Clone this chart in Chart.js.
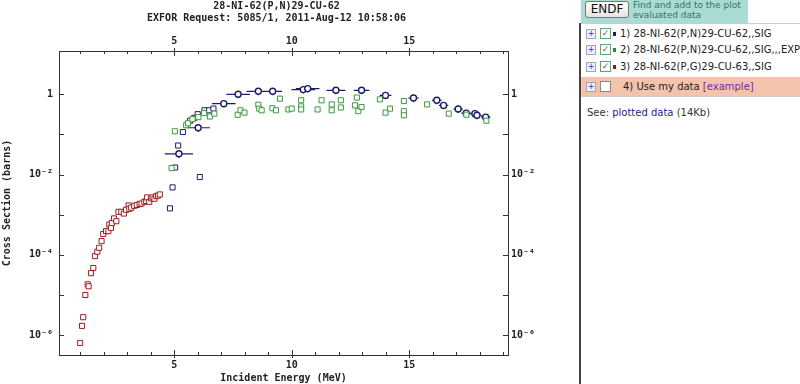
<!DOCTYPE html>
<html><head><meta charset="utf-8">
<script src="https://cdn.jsdelivr.net/npm/chart.js@4.4.0/dist/chart.umd.min.js"></script>
<style>
html,body{margin:0;padding:0;background:#fff;width:800px;height:384px;overflow:hidden;font-family:"DejaVu Sans",sans-serif;}
#wrap{position:absolute;left:0;top:0;width:553px;height:384px;}
.abs{position:absolute;}
.vline{left:579px;top:23px;width:2px;height:361px;background:#444;}
.teal{left:581px;top:0;width:167px;height:23px;background:#a9dcd3;}
.btn{left:585px;top:1px;width:42px;height:15px;border:1px solid #777;border-radius:3px;background:linear-gradient(#fff,#e4e4e4);font-size:12px;line-height:15px;text-align:center;color:#111;}
.tealtxt{left:633px;top:0px;font-size:9px;line-height:10px;color:#2f7466;}
.row{left:581px;width:219px;height:17px;font-size:10px;line-height:17px;color:#222;white-space:nowrap;}
.plus{position:absolute;left:5px;top:4px;width:8px;height:8px;border:1px solid #9aa;background:#eef;font-size:8px;line-height:8px;text-align:center;color:#33a;}
.chk{position:absolute;left:19px;top:3px;width:9px;height:9px;border:1px solid #5a7;background:#fff;font-size:9px;line-height:9px;text-align:center;color:#2a8a2a;}
.sw{position:absolute;left:32px;top:7px;width:3px;height:4px;}
.lbl{position:absolute;left:39px;top:0;}
.see{left:587px;top:107px;font-size:10px;color:#333;}
.see span{color:#1a1a9a;}
</style></head>
<body>
<div id="wrap"><canvas id="c" width="553" height="384"></canvas></div>
<div class="abs teal"></div>
<div class="abs btn">ENDF</div>
<div class="abs tealtxt">Find and add to the plot<br>evaluated data</div>
<div class="abs vline"></div>
<div class="abs" style="left:581px;top:23px;width:219px;height:1px;background:#ccc"></div>
<div class="abs row" style="top:25px"><div class="plus">+</div><div class="chk">✓</div><div class="sw" style="background:#1c1c6e"></div><div class="lbl">1) 28-NI-62(P,N)29-CU-62,,SIG</div></div>
<div class="abs row" style="top:41px"><div class="plus">+</div><div class="chk">✓</div><div class="sw" style="background:#2e8b2e"></div><div class="lbl">2) 28-NI-62(P,N)29-CU-62,,SIG,,,EXP</div></div>
<div class="abs row" style="top:58px"><div class="plus">+</div><div class="chk">✓</div><div class="sw" style="background:#8b1a1a"></div><div class="lbl">3) 28-NI-62(P,G)29-CU-63,,SIG</div></div>
<div class="abs" style="left:581px;top:77px;width:219px;height:19px;background:#f4c3ac"></div>
<div class="abs row" style="top:78px"><div class="plus">+</div><div class="chk" style="border-color:#888"></div><div class="lbl" style="left:42px">4) Use my data <span style="color:#6a2ab0">[example]</span></div></div>
<div class="abs" style="left:581px;top:96px;width:219px;height:1px;background:#ccc"></div>
<div class="abs see">See: <span>plotted data</span> (14Kb)</div>
<script>
// ---- data ----
const redX = [1.00,1.08,1.13,1.22,1.32,1.36,1.46,1.56,1.63,1.73,1.81,1.91,1.98,2.10,2.20,2.24,2.31,2.35,2.44,2.54,2.63,2.75,2.86,2.95,3.06,3.09,3.17,3.30,3.41,3.53,3.61,3.73,3.81,3.85,3.94,4.02,4.08,4.16,4.24,4.31,4.39];
const redY = [6.4e-7,1.7e-6,2.8e-6,1.0e-5,1.85e-5,1.65e-5,3.5e-5,4.7e-5,9.3e-5,1.2e-4,1.5e-4,2.2e-4,3.3e-4,3.9e-4,3.9e-4,5.7e-4,4.7e-4,6.2e-4,8.1e-4,6.9e-4,1.18e-3,1.18e-3,1.07e-3,1.33e-3,1.7e-3,1.4e-3,1.5e-3,1.67e-3,1.75e-3,1.85e-3,1.9e-3,2.1e-3,2.2e-3,2.7e-3,2.1e-3,2.55e-3,2.7e-3,2.5e-3,2.9e-3,3.0e-3,3.2e-3];

const blueSqX = [4.82,4.93,5.04,5.17,5.37,6.09,5.68,5.86,6.00,6.29,6.49,6.67];
const blueSqY = [1.44e-3,4.8e-3,1.5e-2,5.3e-2,0.115,8.7e-3,0.22,0.26,0.32,0.40,0.40,0.44];

const blueCX    = [5.20,6.02,7.11,7.72,8.58,9.19,10.49,10.68,11.88,12.97,13.99,15.18,16.17,16.46,17.08,17.42,17.79,17.88,18.25];
const blueCY    = [0.033,0.147,0.585,1.00,1.19,1.19,1.31,1.39,1.26,1.26,0.94,0.81,0.71,0.53,0.43,0.34,0.33,0.30,0.27];
const blueCXerr = [0.60,0.50,0.50,0.50,0.50,0.40,0.50,0.50,0.40,0.33,0.25,0.23,0.20,0.20,0.20,0.20,0.20,0.20,0.20];
const blueCYerr = [0.20,0.20,0.20,0.20,0.20,0.20,0.20,0.20,0.20,0.20,0.20,0.20,0.20,0.20,0.20,0.20,0.20,0.20,0.20];

const greenX = [4.89,5.03,5.51,5.59,5.78,6.03,6.27,6.52,6.71,7.70,7.82,7.99,8.58,8.62,8.72,9.18,9.33,9.50,9.86,10.00,10.40,10.40,10.40,11.10,11.27,11.70,11.70,12.09,12.09,12.69,12.77,12.83,12.97,13.75,13.99,14.18,14.77,14.77,14.77,15.76,16.68,17.43,18.28];
const greenY = [0.0145,0.12,0.17,0.19,0.24,0.27,0.34,0.28,0.33,0.31,0.40,0.35,0.55,0.44,0.40,0.45,0.40,0.78,0.42,0.44,0.71,0.50,0.42,0.42,0.71,0.56,0.40,0.71,0.47,0.53,0.83,0.38,0.48,0.75,0.35,0.44,0.68,0.38,0.30,0.56,0.33,0.31,0.22];

const xTicks  = [1,2,3,4,5,6,7,8,9,10,11,12,13,14,15,16,17,18,19];
const xLabels = ['','','','','5','','','','','10','','','','','15','','','',''];
const yTicks  = [1e-6,1e-5,1e-4,1e-3,1e-2,1e-1,1];
const yLabels = ['10\u207B\u2076','','10\u207B\u2074','','10\u207B\u00B2','','1'];

const titleLines = ['28-NI-62(P,N)29-CU-62','EXFOR Request: 5085/1, 2011-Aug-12 10:58:06'];
const xTitle = 'Incident Energy (MeV)';
const yTitle = 'Cross Section (barns)';

// ---- colours ----
const RED='#a01c1c', NAVY='#1c1c6e', GREEN='#3a9a3a', AX='#333';
const monoB = {family:'DejaVu Sans Mono', size:10, weight:'bold', lineHeight:1.2};

const pts = (xs,ys)=>xs.map((x,i)=>({x:x,y:ys[i]}));
function lookup(ticks,labels,v){
  for(let i=0;i<ticks.length;i++){ if(Math.abs(ticks[i]-v) <= Math.abs(ticks[i])*1e-6) return labels[i]; }
  return '';
}

const innerTicks = {
  id:'innerTicks',
  afterDatasetsDraw(chart){
    const {ctx, chartArea:a, scales} = chart;
    ctx.save(); ctx.strokeStyle=AX; ctx.lineWidth=1;
    ctx.beginPath();
    xTicks.forEach((v,i)=>{
      const p = Math.round(scales.x.getPixelForValue(v))+0.5;
      const major = xLabels[i] !== '';
      ctx.moveTo(p, a.bottom + (major?3:0)); ctx.lineTo(p, a.bottom - (major?5:3));
      ctx.moveTo(p, a.top - (major?3:0)); ctx.lineTo(p, a.top + (major?5:3));
    });
    yTicks.forEach((v)=>{
      const p = Math.round(scales.y.getPixelForValue(v))+0.5;
      ctx.moveTo(a.left, p); ctx.lineTo(a.left+5, p);
      ctx.moveTo(a.right, p); ctx.lineTo(a.right-5, p);
    });
    ctx.stroke(); ctx.restore();
  }
};

const errBars = {
  id:'errBars',
  beforeDatasetsDraw(chart){
    const {ctx, scales:{x,y}} = chart;
    ctx.save(); ctx.strokeStyle=NAVY; ctx.lineWidth=1.2;
    ctx.beginPath();
    blueCX.forEach((cx,i)=>{
      const cy = blueCY[i];
      const py = y.getPixelForValue(cy);
      ctx.moveTo(x.getPixelForValue(cx-blueCXerr[i]), py);
      ctx.lineTo(x.getPixelForValue(cx+blueCXerr[i]), py);
      const px = x.getPixelForValue(cx);
      ctx.moveTo(px, y.getPixelForValue(cy*(1+blueCYerr[i])));
      ctx.lineTo(px, y.getPixelForValue(cy*(1-blueCYerr[i])));
    });
    ctx.stroke(); ctx.restore();
  }
};

const sq = (color)=>({pointStyle:'rect', pointRadius:3.6, pointHoverRadius:3.6, borderColor:color, backgroundColor:'#fff', pointBorderWidth:1, borderWidth:1});

function xScale(pos, h, withTitle){
  return {
    type:'linear', position:pos, min:0.1, max:19.2,
    grid:{display:false, drawTicks:false},
    border:{display:true, color:AX, width:1},
    ticks:{font:monoB, color:'#222', padding:4, autoSkip:false, maxRotation:0, callback:(v)=>lookup(xTicks,xLabels,v)},
    afterBuildTicks:(s)=>{ s.ticks = xTicks.map(v=>({value:v})); },
    afterFit:(s)=>{ s.height = h; },
    title: withTitle ? {display:true, text:xTitle, font:monoB, color:'#222', padding:{top:0,bottom:0}} : {display:false}
  };
}
function yScale(pos, w, pad, withTitle){
  return {
    type:'logarithmic', position:pos, min:3.2e-7, max:12,
    grid:{display:false, drawTicks:false},
    border:{display:true, color:AX, width:1},
    ticks:{font:monoB, color:'#222', padding:pad, autoSkip:false, callback:(v)=>lookup(yTicks,yLabels,v)},
    afterBuildTicks:(s)=>{ s.ticks = yTicks.map(v=>({value:v})); },
    afterFit:(s)=>{ s.width = w; },
    title: withTitle ? {display:true, text:yTitle, font:monoB, color:'#222', padding:{top:1,bottom:0}} : {display:false}
  };
}

new Chart(document.getElementById('c'), {
  type:'scatter',
  data:{datasets:[
    Object.assign({label:'(P,G)', data:pts(redX,redY), xAxisID:'x', yAxisID:'y'}, sq(RED)),
    Object.assign({label:'(P,N) SIG,,,EXP', data:pts(greenX,greenY), xAxisID:'x', yAxisID:'y'}, sq(GREEN)),
    Object.assign({label:'(P,N) SIG', data:pts(blueSqX,blueSqY), xAxisID:'x', yAxisID:'y'}, sq(NAVY)),
    {label:'(P,N) SIG err', data:pts(blueCX,blueCY), xAxisID:'x', yAxisID:'y', pointStyle:'circle', pointRadius:3, pointHoverRadius:3, borderColor:NAVY, backgroundColor:'#fff', pointBorderWidth:1.4, borderWidth:1.4}
  ]},
  options:{
    responsive:false, animation:false, devicePixelRatio:1,
    layout:{padding:0},
    plugins:{
      legend:{display:false}, tooltip:{enabled:false},
      title:{display:true, text:titleLines, font:monoB, color:'#222', padding:{top:0,bottom:0}}
    },
    scales:{
      x: xScale('bottom', 29, true),
      x2: xScale('top', 27, false),
      y: yScale('left', 59, 6, true),
      y2: yScale('right', 45, 3, false)
    }
  },
  plugins:[errBars, innerTicks]
});
</script>
</body></html>
